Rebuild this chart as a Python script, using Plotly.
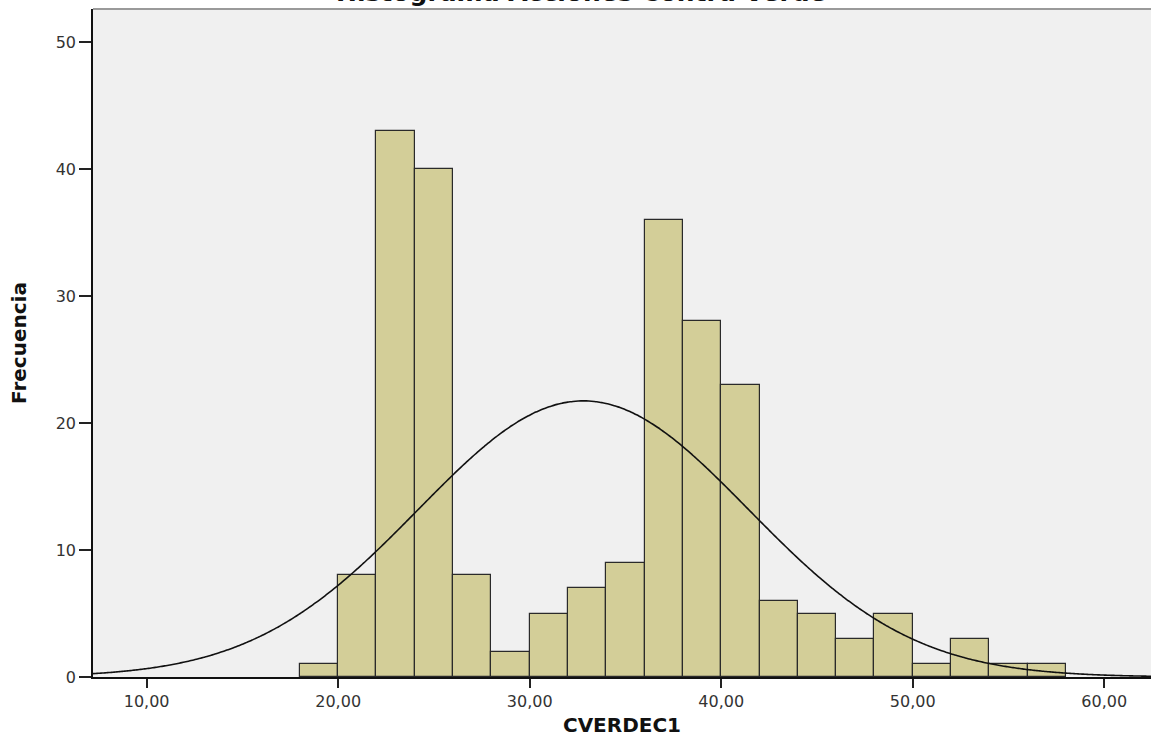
import numpy as np
import plotly.graph_objects as go

# ---- data ----
bin_starts = [18, 20, 22, 24, 26, 28, 30, 32, 34, 36, 38, 40, 42, 44, 46, 48, 50, 52, 54, 56]
bin_width = 2
counts = [1, 8, 43, 40, 8, 2, 5, 7, 9, 36, 28, 23, 6, 5, 3, 5, 1, 3, 1, 1]
x_tick_vals = [10, 20, 30, 40, 50, 60]
x_tick_text = ["10,00", "20,00", "30,00", "40,00", "50,00", "60,00"]
y_tick_vals = [0, 10, 20, 30, 40, 50]
title_text = "Histograma Acciones Contra Verde"
x_title = "CVERDEC1"
y_title = "Frecuencia"
x_range = [7.2, 62.44]
y_range = [0, 52.6]

# ---- derived ----
centers = np.array(bin_starts, dtype=float) + bin_width / 2
cnt = np.array(counts, dtype=float)
n = cnt.sum()
mean = (centers * cnt).sum() / n
std = np.sqrt(((centers - mean) ** 2 * cnt).sum() / (n - 1))
xc = np.linspace(x_range[0], x_range[1], 400)
yc = n * bin_width / (std * np.sqrt(2 * np.pi)) * np.exp(-0.5 * ((xc - mean) / std) ** 2)

fig = go.Figure()
fig.add_trace(go.Bar(
    x=centers, y=counts, width=bin_width,
    marker=dict(color="#D3CE98", line=dict(color="#2a2a2a", width=1.2)),
    hoverinfo="skip", showlegend=False,
))
fig.add_trace(go.Scatter(
    x=xc, y=yc, mode="lines",
    line=dict(color="#111111", width=1.6, shape="spline"),
    hoverinfo="skip", showlegend=False,
))

fig.update_layout(
    width=1151, height=751,
    margin=dict(l=93, r=0, t=9, b=74),
    paper_bgcolor="white",
    plot_bgcolor="#F0F0F0",
    bargap=0,
    font=dict(family="DejaVu Sans", color="#222222"),
    xaxis=dict(
        range=x_range, tickvals=x_tick_vals, ticktext=x_tick_text,
        showgrid=False, zeroline=False,
        showline=True, linecolor="#111111", linewidth=1.5,
        ticks="outside", ticklen=9, tickwidth=1.5, tickcolor="#222222",
        tickfont=dict(family="DejaVu Sans", size=16, color="#333333"),
        title=dict(text=x_title, font=dict(family="DejaVu Sans", size=20, color="#111111", weight="bold"),
                   standoff=8),
        automargin=False,
    ),
    yaxis=dict(
        range=y_range, tickvals=y_tick_vals,
        showgrid=False, zeroline=False,
        showline=True, linecolor="#111111", linewidth=1.5,
        ticks="outside", ticklen=12, tickwidth=1.5, tickcolor="#222222",
        tickfont=dict(family="DejaVu Sans", size=16, color="#333333"),
        title=dict(text=y_title, font=dict(family="DejaVu Sans", size=20, color="#111111", weight="bold"),
                   standoff=24),
        automargin=False,
    ),
)

fig.add_shape(type="line", xref="paper", yref="paper", x0=0, x1=1, y0=1, y1=1,
              line=dict(color="#9a9a9a", width=2))

fig.add_annotation(
    text=title_text, xref="paper", yref="paper",
    x=(581 - 93) / 1058, y=1, xanchor="center", yanchor="bottom",
    showarrow=False, yshift=0.4,
    font=dict(family="DejaVu Sans", size=25, color="#111111", weight="bold"),
)

fig.write_html("out.html")
